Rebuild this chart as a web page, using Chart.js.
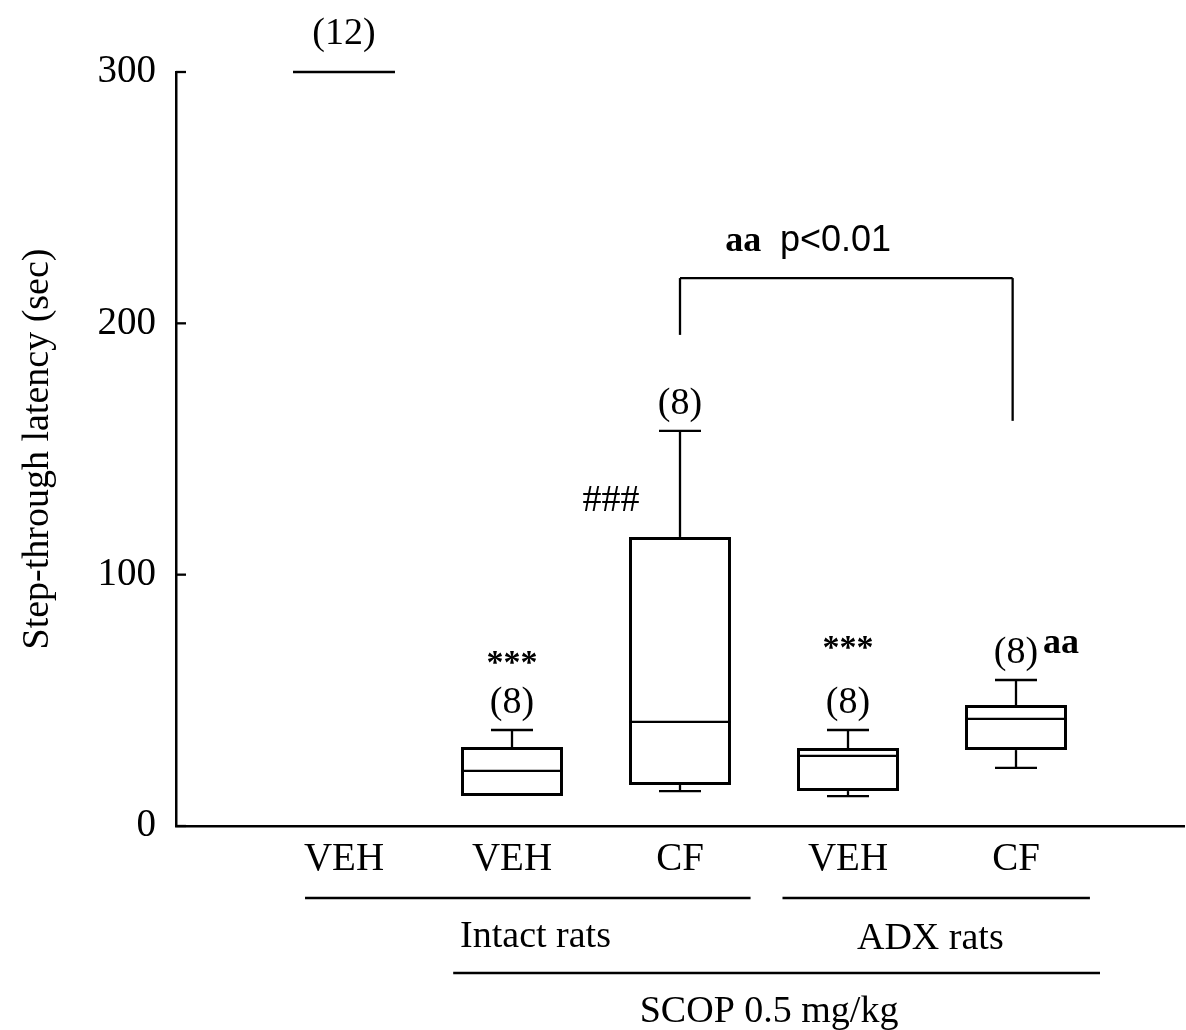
<!DOCTYPE html>
<html>
<head>
<meta charset="utf-8">
<script src="https://cdn.jsdelivr.net/npm/chart.js@4.4.1/dist/chart.umd.min.js"></script>
<style>
  html, body { margin: 0; padding: 0; background: #fff; }
  #wrap { width: 1186px; height: 1030px; }
</style>
</head>
<body>
<div id="wrap"><canvas id="grafico" width="1186" height="1030"></canvas></div>
<script>
// grupos e valores (latência em segundos)
const grupos = ['VEH', 'VEH', 'CF', 'VEH', 'CF'];
const nAnimais = ['(12)', '(8)', '(8)', '(8)', '(8)'];
const minimos = [300, 11.9, 13.9, 11.9, 23.1];
const q1 = [300, 11.9, 16.3, 13.9, 30.2];
const medianas = [300, 21.9, 41.4, 27.9, 42.6];
const q3 = [300, 31.4, 115.0, 31.0, 48.1];
const maximos = [300, 38.2, 157.2, 38.2, 58.1];
const yTicks = [0, 100, 200, 300];

const SERIF = '"Liberation Serif", "Times New Roman", serif';
const SANS = '"Liberation Sans", Arial, sans-serif';

// desenha bigodes, medianas, textos e marcações fora da área
const boxPlugin = {
  id: 'boxplot',
  afterDraw(chart) {
    const ctx = chart.ctx;
    const xs = chart.scales.x, ys = chart.scales.y;
    const area = chart.chartArea;
    const meta = chart.getDatasetMeta(0);
    ctx.save();
    ctx.strokeStyle = '#000';
    ctx.fillStyle = '#000';
    ctx.lineWidth = 2.3;

    const linha = (x1, y1, x2, y2) => {
      ctx.beginPath(); ctx.moveTo(x1, y1); ctx.lineTo(x2, y2); ctx.stroke();
    };

    // ticks do eixo y para dentro
    yTicks.forEach(v => {
      const y = ys.getPixelForValue(v);
      linha(area.left, y, area.left + 10, y);
    });

    grupos.forEach((g, i) => {
      const x = xs.getPixelForValue(i + 1);
      const meia = meta.data[i].width / 2;
      const cap = xs.getPixelForValue(i + 1.125) - x;
      const pMax = ys.getPixelForValue(maximos[i]);
      const pMin = ys.getPixelForValue(minimos[i]);
      const pQ1 = ys.getPixelForValue(q1[i]);
      const pQ3 = ys.getPixelForValue(q3[i]);
      const pMed = ys.getPixelForValue(medianas[i]);
      if (maximos[i] > q3[i]) { linha(x, pQ3, x, pMax); linha(x - cap, pMax, x + cap, pMax); }
      if (minimos[i] < q1[i]) { linha(x, pQ1, x, pMin); linha(x - cap, pMin, x + cap, pMin); }
      linha(x - meia, pMed, x + meia, pMed);

      ctx.font = '38px ' + SERIF;
      ctx.textAlign = 'center';
      ctx.textBaseline = 'alphabetic';
      const gap = i === 0 ? 28 : 17;
      ctx.fillText(nAnimais[i], x, pMax - gap);
    });

    // asteriscos e outras marcas
    const px = v => xs.getPixelForValue(v);
    const py = v => ys.getPixelForValue(v);
    ctx.textAlign = 'center';
    ctx.font = 'bold 34px ' + SERIF;
    ctx.fillText('***', px(2), py(61));
    ctx.fillText('***', px(4), py(67));
    ctx.font = '38px ' + SERIF;
    ctx.fillText('###', px(2.59), py(125.3));
    ctx.textAlign = 'left';
    ctx.font = 'bold 36px ' + SERIF;
    ctx.fillText('aa', px(5.16), py(68.8));
    ctx.fillText('aa', px(3.27), py(228.8));
    ctx.font = '36px ' + SANS;
    ctx.fillText('p<0.01', px(3.595), py(228.8));

    // colchete de comparação
    linha(px(3), py(195.4), px(3), py(218));
    linha(px(3), py(218), px(4.98), py(218));
    linha(px(4.98), py(218), px(4.98), py(161.2));

    // linhas de grupos abaixo do eixo
    const b = area.bottom;
    linha(px(0.768), b + 72, px(3.42), b + 72);
    linha(px(3.61), b + 72, px(5.44), b + 72);
    linha(px(1.65), b + 147, px(5.5), b + 147);
    ctx.font = '38px ' + SERIF;
    ctx.textAlign = 'center';
    ctx.fillText('Intact rats', px(2.14), b + 121);
    ctx.fillText('ADX rats', px(4.49), b + 123);
    ctx.fillText('SCOP 0.5 mg/kg', px(3.53), b + 196);
    ctx.restore();
  }
};

new Chart(document.getElementById('grafico'), {
  type: 'bar',
  data: {
    datasets: [{
      data: grupos.map((g, i) => ({ x: i + 1, y: [q1[i], q3[i]] })),
      backgroundColor: '#fff',
      borderColor: '#000',
      borderWidth: 3,
      borderSkipped: false,
      barPercentage: 0.607,
      categoryPercentage: 1,
      grouped: false
    }]
  },
  options: {
    responsive: false,
    animation: false,
    layout: { padding: { top: 72, right: 2, left: 0, bottom: 0 } },
    plugins: { legend: { display: false }, tooltip: { enabled: false } },
    scales: {
      x: {
        type: 'linear',
        min: 0, max: 6,
        offset: false,
        grid: { display: false, offset: false, drawTicks: false },
        border: { display: true, color: '#000', width: 2.5 },
        afterBuildTicks: s => { s.ticks = grupos.map((g, i) => ({ value: i + 1 })); },
        afterFit: s => { s.height = 204; },
        ticks: {
          autoSkip: false, maxRotation: 0, padding: 10, color: '#000',
          font: { family: SERIF, size: 39 },
          callback: v => grupos[v - 1] || ''
        }
      },
      y: {
        min: 0, max: 300,
        grid: { display: false, drawTicks: false },
        border: { display: true, color: '#000', width: 2.5 },
        afterBuildTicks: s => { s.ticks = yTicks.map(v => ({ value: v })); },
        afterFit: s => { s.width = 176; },
        ticks: { padding: 20, color: '#000', font: { family: SERIF, size: 39 } },
        title: {
          display: true, text: 'Step-through latency (sec)', color: '#000',
          font: { family: SERIF, size: 38 }, padding: { top: 15, bottom: 0 }
        }
      }
    }
  },
  plugins: [boxPlugin]
});
</script>
</body>
</html>
